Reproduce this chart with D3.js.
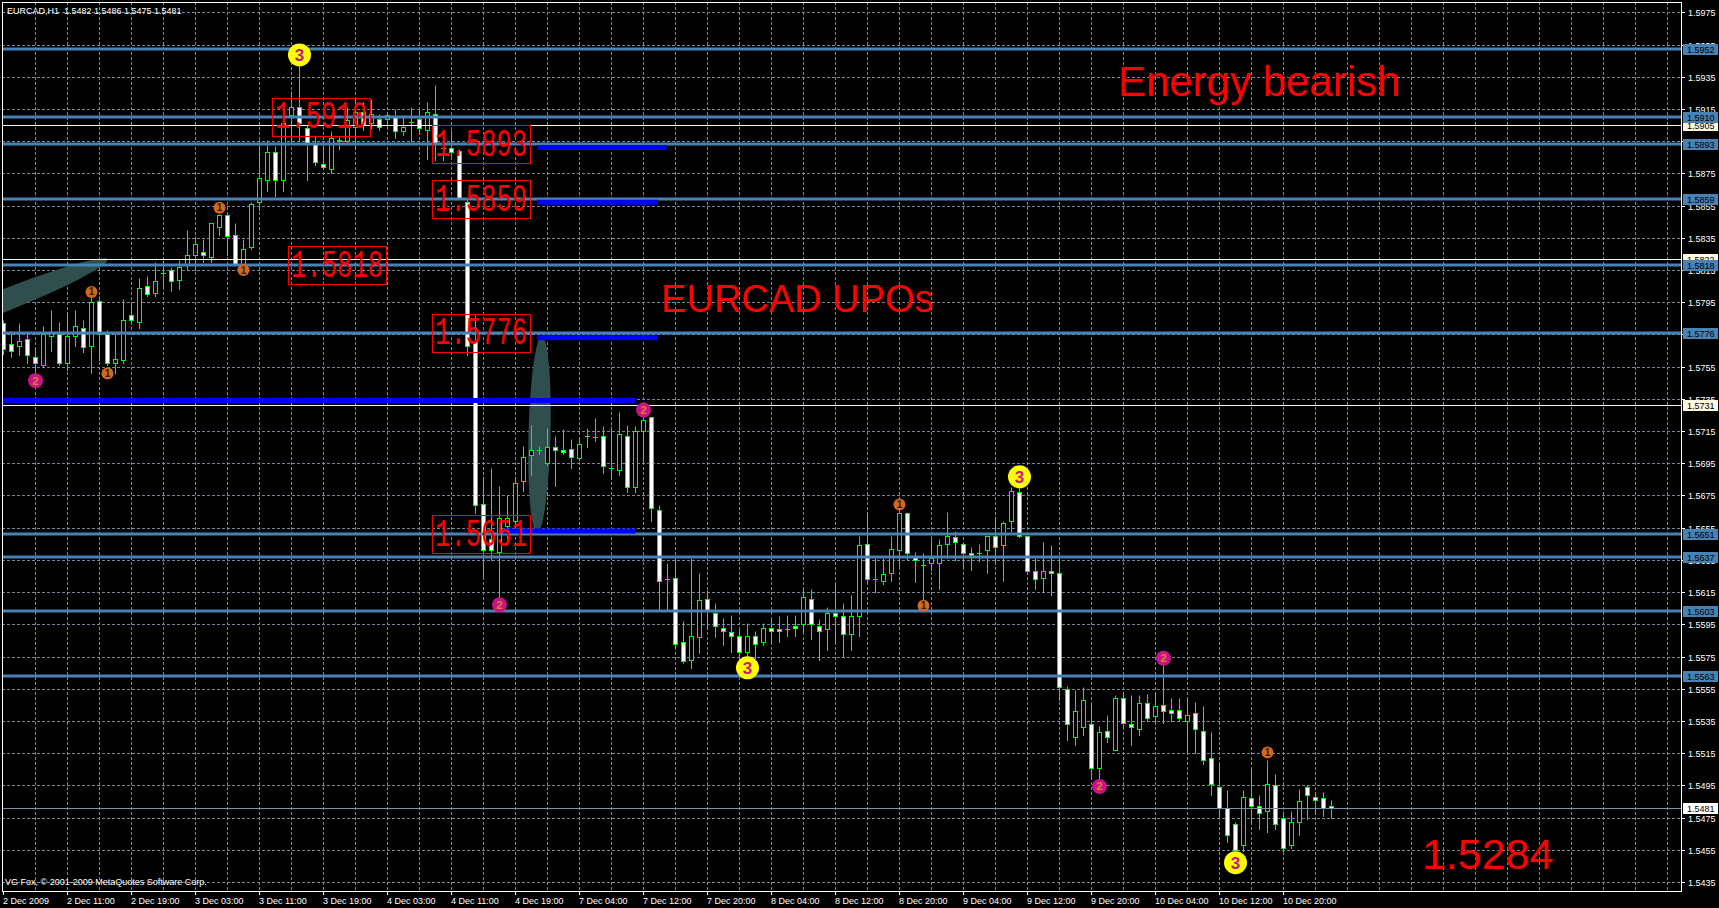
<!DOCTYPE html>
<html><head><meta charset="utf-8">
<script src="https://cdn.jsdelivr.net/npm/d3@7"></script>
<style>html,body{margin:0;padding:0;background:#000;overflow:hidden}svg{display:block}</style>
</head><body><svg id="c" width="1719" height="908"></svg>
<script>
// ---------- DATA ----------
const opens=[1.5782,1.5769,1.5768,1.5772,1.5761,1.5756,1.5774,1.5775,1.5757,1.5774,
1.5779,1.5768,1.5796,1.5775,1.5757,1.5759,1.5787,1.5783,1.5805,1.5801,
1.5813,1.5815,1.5809,1.5818,1.5824,1.5826,1.5823,1.5842,1.5849,1.5837,
1.5819,1.5829,1.5857,1.5871,1.5888,1.5871,1.5911,1.5916,1.5903,1.5894,
1.5881,1.5878,1.5896,1.5895,1.5904,1.5913,1.5906,1.5909,1.5909,1.5910,
1.5901,1.5907,1.5909,1.5902,1.5912,1.5891,1.5891,1.5889,1.5857,1.5770,
1.5670,1.5648,1.5640,1.5656,1.5659,1.5684,1.5700,1.5703,1.5695,1.5705,
1.5703,1.5704,1.5698,1.5712,1.5711,1.5712,1.5692,1.5691,1.5712,1.5680,
1.5715,1.5724,1.5666,1.5623,1.5624,1.5584,1.5573,1.5587,1.5611,1.5602,
1.5593,1.5590,1.5588,1.5578,1.5588,1.5584,1.5593,1.5592,1.5592,1.5594,
1.5595,1.5611,1.5594,1.5592,1.5602,1.5600,1.5589,1.5600,1.5645,1.5623,
1.5622,1.5627,1.5641,1.5664,1.5637,1.5632,1.5633,1.5633,1.5645,1.5649,
1.5645,1.5639,1.5639,1.5641,1.5650,1.5644,1.5659,1.5677,1.5650,1.5628,
1.5624,1.5628,1.5627,1.5555,1.5525,1.5531,1.5533,1.5506,1.5529,1.5517,
1.5549,1.5533,1.5530,1.5546,1.5538,1.5545,1.5542,1.5542,1.5535,1.5540,
1.5529,1.5512,1.5494,1.5481,1.5471,1.5458,1.5487,1.5482,1.5479,1.5495,
1.5475,1.5458,1.5472,1.5494,1.5488,1.5487,1.5482];
const highs=[1.5784,1.5777,1.5782,1.5776,1.5766,1.5780,1.5790,1.5783,1.5788,1.5790,
1.5784,1.5799,1.5799,1.5778,1.5775,1.5797,1.5795,1.5810,1.5811,1.5820,
1.5821,1.5817,1.5821,1.5840,1.5836,1.5834,1.5844,1.5850,1.5850,1.5844,
1.5834,1.5857,1.5896,1.5896,1.5892,1.5916,1.5926,1.5942,1.5905,1.5898,
1.5895,1.5901,1.5898,1.5916,1.5922,1.5919,1.5921,1.5912,1.5913,1.5915,
1.5911,1.5916,1.5915,1.5919,1.5930,1.5895,1.5902,1.5890,1.5860,1.5787,
1.5687,1.5692,1.5681,1.5675,1.5687,1.5706,1.5719,1.5706,1.5717,1.5712,
1.5716,1.5710,1.5711,1.5717,1.5723,1.5718,1.5718,1.5727,1.5719,1.5718,
1.5728,1.5724,1.5669,1.5633,1.5636,1.5597,1.5636,1.5627,1.5616,1.5608,
1.5599,1.5601,1.5592,1.5596,1.5591,1.5596,1.5598,1.5600,1.5601,1.5601,
1.5617,1.5617,1.5598,1.5606,1.5620,1.5608,1.5613,1.5650,1.5665,1.5636,
1.5636,1.5650,1.5669,1.5665,1.5640,1.5639,1.5650,1.5648,1.5665,1.5653,
1.5646,1.5643,1.5645,1.5650,1.5662,1.5659,1.5680,1.5680,1.5650,1.5636,
1.5646,1.5644,1.5636,1.5557,1.5554,1.5556,1.5546,1.5532,1.5539,1.5551,
1.5553,1.5551,1.5551,1.5552,1.5553,1.5570,1.5549,1.5549,1.5549,1.5547,
1.5544,1.5528,1.5508,1.5492,1.5472,1.5492,1.5506,1.5489,1.5511,1.5502,
1.5479,1.5479,1.5493,1.5495,1.5491,1.5491,1.5486];
const lows=[1.5763,1.5761,1.5762,1.5757,1.5752,1.5755,1.5765,1.5756,1.5753,1.5768,
1.5764,1.5751,1.5759,1.5756,1.5751,1.5757,1.5782,1.5779,1.5799,1.5799,
1.5805,1.5802,1.5803,1.5815,1.5815,1.5820,1.5820,1.5837,1.5824,1.5819,
1.5815,1.5828,1.5852,1.5864,1.5861,1.5864,1.5895,1.5895,1.5871,1.5880,
1.5878,1.5875,1.5890,1.5893,1.5890,1.5902,1.5903,1.5902,1.5904,1.5897,
1.5899,1.5895,1.5901,1.5884,1.5883,1.5883,1.5886,1.5859,1.5762,1.5664,
1.5625,1.5635,1.5604,1.5645,1.5655,1.5678,1.5688,1.5701,1.5694,1.5681,
1.5701,1.5692,1.5697,1.5705,1.5709,1.5689,1.5686,1.5688,1.5677,1.5677,
1.5695,1.5659,1.5604,1.5604,1.5581,1.5571,1.5568,1.5577,1.5592,1.5587,
1.5582,1.5578,1.5573,1.5573,1.5574,1.5582,1.5584,1.5584,1.5588,1.5588,
1.5590,1.5586,1.5573,1.5579,1.5584,1.5575,1.5579,1.5588,1.5622,1.5615,
1.5620,1.5622,1.5631,1.5635,1.5621,1.5608,1.5629,1.5617,1.5636,1.5635,
1.5630,1.5629,1.5634,1.5627,1.5633,1.5622,1.5653,1.5649,1.5627,1.5617,
1.5615,1.5613,1.5548,1.5523,1.5520,1.5526,1.5499,1.5499,1.5522,1.5517,
1.5532,1.5520,1.5526,1.5535,1.5534,1.5534,1.5535,1.5535,1.5515,1.5515,
1.5508,1.5489,1.5476,1.5460,1.5453,1.5454,1.5471,1.5468,1.5466,1.5468,
1.5454,1.5456,1.5464,1.5474,1.5477,1.5476,1.5475];
const closes=[1.5766,1.5765,1.5771,1.5762,1.5757,1.5775,1.5776,1.5757,1.5774,1.5780,
1.5767,1.5795,1.5775,1.5757,1.5760,1.5784,1.5784,1.5804,1.5800,1.5808,
1.5813,1.5808,1.5817,1.5824,1.5831,1.5824,1.5844,1.5849,1.5836,1.5819,
1.5828,1.5856,1.5872,1.5888,1.5871,1.5906,1.5916,1.5906,1.5894,1.5882,
1.5879,1.5897,1.5895,1.5908,1.5913,1.5905,1.5912,1.5904,1.5911,1.5901,
1.5904,1.5907,1.5903,1.5913,1.5894,1.5891,1.5888,1.5860,1.5768,1.5669,
1.5641,1.5641,1.5661,1.5661,1.5683,1.5699,1.5703,1.5703,1.5705,1.5703,
1.5702,1.5699,1.5707,1.5712,1.5711,1.5693,1.5692,1.5713,1.5680,1.5715,
1.5722,1.5667,1.5622,1.5623,1.5583,1.5572,1.5588,1.5610,1.5604,1.5594,
1.5591,1.5588,1.5578,1.5588,1.5583,1.5593,1.5591,1.5591,1.5592,1.5593,
1.5612,1.5595,1.5591,1.5602,1.5600,1.5589,1.5600,1.5644,1.5623,1.5623,
1.5626,1.5642,1.5664,1.5639,1.5635,1.5632,1.5636,1.5644,1.5650,1.5646,
1.5639,1.5638,1.5639,1.5650,1.5643,1.5658,1.5678,1.5650,1.5628,1.5623,
1.5628,1.5627,1.5556,1.5533,1.5541,1.5548,1.5506,1.5528,1.5525,1.5549,
1.5534,1.5531,1.5546,1.5537,1.5544,1.5541,1.5540,1.5537,1.5539,1.5530,
1.5511,1.5496,1.5481,1.5464,1.5455,1.5488,1.5482,1.5478,1.5496,1.5471,
1.5456,1.5472,1.5485,1.5489,1.5486,1.5481,1.5481];

const timeLabels=["2 Dec 2009","2 Dec 11:00","2 Dec 19:00","3 Dec 03:00","3 Dec 11:00","3 Dec 19:00",
"4 Dec 03:00","4 Dec 11:00","4 Dec 19:00","7 Dec 04:00","7 Dec 12:00","7 Dec 20:00","8 Dec 04:00",
"8 Dec 12:00","8 Dec 20:00","9 Dec 04:00","9 Dec 12:00","9 Dec 20:00","10 Dec 04:00","10 Dec 12:00","10 Dec 20:00"];
const priceTicks=["1.5975","1.5955","1.5935","1.5915","1.5895","1.5875","1.5855","1.5835","1.5815","1.5795",
"1.5775","1.5755","1.5735","1.5715","1.5695","1.5675","1.5655","1.5635","1.5615","1.5595","1.5575",
"1.5555","1.5535","1.5515","1.5495","1.5475","1.5455","1.5435"];

const steelLevels=[1.5952,1.5910,1.5893,1.5859,1.5818,1.5776,1.5651,1.5637,1.5603,1.5563];
const creamLevels=[1.5905,1.5822,1.5731];
const bidPrice=1.5481;
const blueSegPrice=[1.5891,1.5857,1.5773,1.5734,1.5653];
const blueSegFrom=[66.7,66.7,66.7,-1,62.4];
const blueSegTo=[82.9,81.8,81.8,79,79];

const boxLabels=["1.5910","1.5893","1.5859","1.5818","1.5776","1.5651"];
const boxBars=[39.7,59.7,59.7,41.7,59.7,59.7];
const boxPrices=[1.5910,1.5893,1.5859,1.5818,1.5776,1.5651];

const notes=["Energy bearish","EURCAD UPOs","1.5284"];
const noteBars=[139.3,82.2,177.3];
const notePrices=[1.5923,1.5789,1.5443];

const mark3Bars=[37,93,127,154];
const mark3Prices=[1.59485,1.5568,1.56866,1.5447];
const mark2Bars=[4,62,80,137,145];
const mark2Prices=[1.57463,1.56071,1.57281,1.54943,1.5574];
const mark1Bars=[11,13,27,30,112,115,158];
const mark1Prices=[1.58014,1.57507,1.58537,1.5815,1.56694,1.56065,1.55154];

// shaded ellipses: two end points (bar, price) each
const ellFrom=[[-0.4,1.5795],[67.3,1.5774]];
const ellTo=[[13.7,1.5823],[66.7,1.5652]];

// ---------- DRAWING ----------
const svg=d3.select("#c");
const L=2,T=2,R=1681,B=891;
const FONT="'Liberation Sans', Arial, sans-serif";
const x=d3.scaleLinear().domain([0,1]).range([3.5,11.5]);
const y=d3.scaleLinear().domain([1.5975,1.5435]).range([12.3,882]);
const py=p=>Math.round(y(p))+0.5;

svg.append("rect").attr("width",1719).attr("height",908).attr("fill","#000");
svg.append("defs").append("clipPath").attr("id","clip").append("rect")
  .attr("x",L+1).attr("y",T+1).attr("width",R-L-1).attr("height",B-T-1);
const plot=svg.append("g").attr("clip-path","url(#clip)");

// grid
const gridC="#778899";
const vb=d3.range(4,210,4);
plot.selectAll(".vg").data(vb).enter().append("line")
  .attr("x1",d=>x(d)).attr("x2",d=>x(d)).attr("y1",T).attr("y2",B)
  .attr("stroke",gridC).attr("stroke-width",1).attr("stroke-dasharray","3,2");
plot.selectAll(".hg").data(priceTicks).enter().append("line")
  .attr("x1",L).attr("x2",R).attr("y1",d=>py(+d)).attr("y2",d=>py(+d))
  .attr("stroke",gridC).attr("stroke-width",1).attr("stroke-dasharray","3,2");

// ellipses (background objects)
ellFrom.forEach((a,i)=>{
  const b=ellTo[i];
  const x1=x(a[0]),y1=y(a[1]),x2=x(b[0]),y2=y(b[1]);
  const cx=(x1+x2)/2,cy=(y1+y2)/2;
  const len=Math.hypot(x2-x1,y2-y1)/2;
  const ang=Math.atan2(y2-y1,x2-x1)*180/Math.PI;
  plot.append("ellipse").attr("cx",0).attr("cy",0).attr("rx",i===0?len*1.9:len).attr("ry",i===0?11:11)
    .attr("transform",`translate(${i===0?x1:cx},${i===0?y1:cy}) rotate(${ang})`)
    .attr("fill","#2f4f4f");
});

// candles
const idx=d3.range(opens.length);
const cg=plot.append("g");
idx.forEach(i=>{
  const cx=x(i);
  const o=opens[i],c=closes[i],h=highs[i],l=lows[i];
  cg.append("line").attr("x1",cx).attr("x2",cx).attr("y1",py(h)).attr("y2",py(l)+0.5)
    .attr("stroke","#00ff00").attr("stroke-width",1);
  const top=py(Math.max(o,c)),bot=py(Math.min(o,c));
  if(bot-top<1){
    cg.append("line").attr("x1",cx-2.5).attr("x2",cx+2.5).attr("y1",top).attr("y2",top)
      .attr("stroke","#00ff00").attr("stroke-width",1);
  } else {
    cg.append("rect").attr("x",cx-2).attr("y",top).attr("width",4).attr("height",bot-top)
      .attr("fill",c<o?"#ffffff":"#000000").attr("stroke","#00ff00").attr("stroke-width",1);
  }
});

// horizontal lines
plot.selectAll(".cl").data(creamLevels).enter().append("line")
  .attr("x1",L).attr("x2",R).attr("y1",d=>py(d)).attr("y2",d=>py(d))
  .attr("stroke","#fff8dc").attr("stroke-width",1);
plot.append("line").attr("x1",L).attr("x2",R).attr("y1",py(bidPrice)).attr("y2",py(bidPrice))
  .attr("stroke","#8090a0").attr("stroke-width",1);
plot.selectAll(".sl").data(steelLevels).enter().append("line")
  .attr("x1",L).attr("x2",R).attr("y1",d=>Math.round(y(d))).attr("y2",d=>Math.round(y(d)))
  .attr("stroke","#4682b4").attr("stroke-width",3);
blueSegPrice.forEach((p,i)=>{
  plot.append("line").attr("x1",x(blueSegFrom[i])).attr("x2",x(blueSegTo[i]))
    .attr("y1",y(p)).attr("y2",y(p)).attr("stroke","#0000ff").attr("stroke-width",5);
});

// markers
function marker(bars,prices,r,fill,txt,tcol,fs){
  bars.forEach((b,i)=>{
    const cx=x(b),cy=y(prices[i]);
    plot.append("circle").attr("cx",cx).attr("cy",cy).attr("r",r).attr("fill",fill);
    plot.append("text").attr("x",cx).attr("y",cy+fs*0.36).attr("text-anchor","middle")
      .attr("font-family",FONT).attr("font-weight","bold").attr("font-size",fs).attr("fill",tcol).text(txt);
  });
}
marker(mark3Bars,mark3Prices,11.5,"#ffff00","3","#c71585",17);
marker(mark2Bars,mark2Prices,7.5,"#c71585","2","#e08020",11);
marker(mark1Bars,mark1Prices,6,"#d2691e","1","#3a1a00",10);

// boxed red labels
boxLabels.forEach((t,i)=>{
  const cx=x(boxBars[i]),cy=y(boxPrices[i]);
  plot.append("rect").attr("x",Math.round(cx-49)+0.5).attr("y",Math.round(cy-19)+0.5)
    .attr("width",98).attr("height",38).attr("fill","none").attr("stroke","#ff0000").attr("stroke-width",1);
  plot.append("text").attr("x",cx).attr("y",cy+11.5).attr("text-anchor","middle")
    .attr("font-family","'Liberation Mono', 'Courier New', monospace").attr("font-size",38)
    .attr("textLength",92).attr("lengthAdjust","spacingAndGlyphs").attr("fill","#ff0000").text(t);
});

// notes
const noteSizes=[42,38,43];
notes.forEach((t,i)=>{
  plot.append("text").attr("x",x(noteBars[i])).attr("y",y(notePrices[i]))
    .attr("font-family",FONT).attr("font-size",noteSizes[i]).attr("fill","#ff0000").text(t);
});

// header and copyright
svg.append("text").attr("x",7).attr("y",14).attr("font-family",FONT).attr("font-size",9)
  .attr("fill","#fff").style("white-space","pre").text("EURCAD,H1  1.5482 1.5486 1.5475 1.5481");
svg.append("text").attr("x",5).attr("y",885).attr("font-family",FONT).attr("font-size",9)
  .attr("fill","#fff").text("VG Fox, \u00a9 2001-2009 MetaQuotes Software Corp.");

// frame
svg.append("rect").attr("x",L+0.5).attr("y",T+0.5).attr("width",R-L).attr("height",B-T)
  .attr("fill","none").attr("stroke","#fff").attr("stroke-width",1);

// right axis
const ax=svg.append("g");
priceTicks.forEach(t=>{
  const yy=py(+t);
  ax.append("line").attr("x1",R).attr("x2",R+4).attr("y1",yy).attr("y2",yy).attr("stroke","#fff");
  ax.append("text").attr("x",R+7).attr("y",yy+3.5).attr("font-family",FONT).attr("font-size",9)
    .attr("fill","#fff").text(t);
});
function axLabel(p,bg,fg){
  const yy=Math.round(y(p));
  ax.append("rect").attr("x",R+2).attr("y",yy-5).attr("width",35).attr("height",11).attr("fill",bg);
  ax.append("text").attr("x",R+6).attr("y",yy+4).attr("font-family",FONT).attr("font-size",9)
    .attr("fill",fg).text(p.toFixed(4));
}
creamLevels.forEach(p=>axLabel(p,"#fff8dc","#000"));
steelLevels.forEach(p=>axLabel(p,"#4682b4","#000"));
axLabel(bidPrice,"#ffffff","#000");

// time axis
timeLabels.forEach((t,k)=>{
  const xx=x(8*k);
  ax.append("line").attr("x1",xx).attr("x2",xx).attr("y1",B).attr("y2",B+4).attr("stroke","#fff");
  ax.append("text").attr("x",xx-0.5).attr("y",904).attr("font-family",FONT).attr("font-size",9)
    .attr("fill","#fff").text(t);
});
</script></body></html>
